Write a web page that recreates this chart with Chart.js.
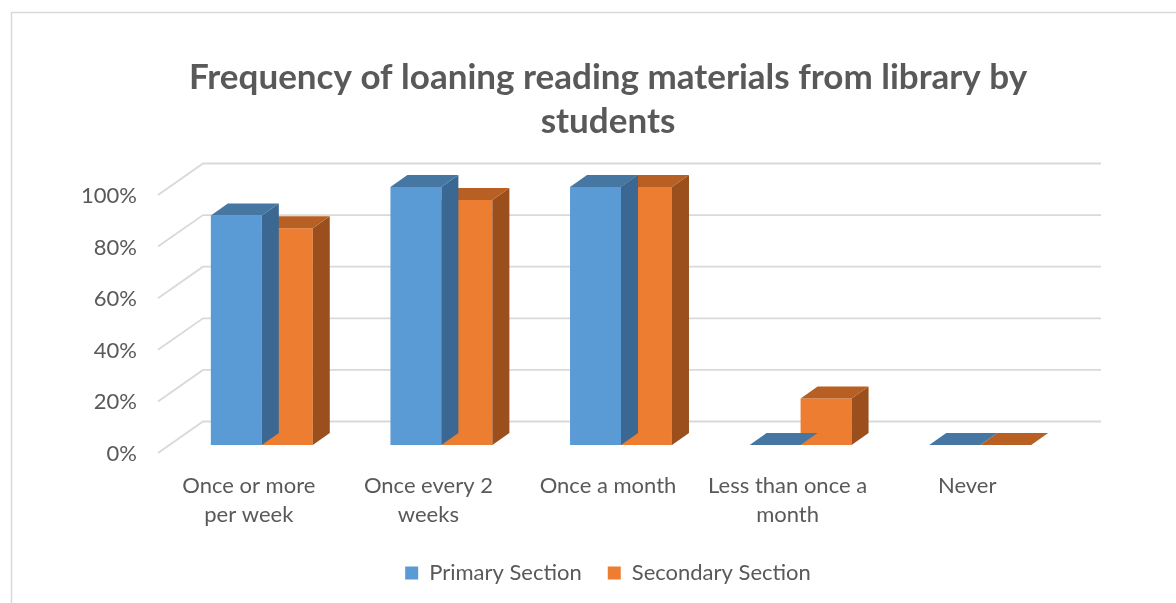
<!DOCTYPE html>
<html>
<head>
<meta charset="utf-8">
<script src="https://cdn.jsdelivr.net/npm/chart.js@4/dist/chart.umd.min.js"></script>
<style>
  html, body { margin: 0; padding: 0; background: #ffffff; }
  #wrap { width: 1176px; height: 603px; position: relative; }
</style>
</head>
<body>
<div id="wrap"><canvas id="chart" width="1176" height="603"></canvas></div>
<script>
// Survey results: share of students per loan frequency
const categories = [
  ['Once or more', 'per week'],
  ['Once every 2', 'weeks'],
  'Once a month',
  ['Less than once a', 'month'],
  'Never'
];
const seriesNames = ['Primary Section', 'Secondary Section'];
const primaryValues = [89, 100, 100, 0, 0];
const secondaryValues = [84, 95, 100, 18, 0];
const yTickValues = [0, 20, 40, 60, 80, 100];

const FONT = 'Lato, "Open Sans", sans-serif';
const TEXT = '#595959';
const GRID = '#d9d9d9';

// Extrusion of each bar (pseudo-3D depth)
const DEPTH_DX = 17;
const DEPTH_DY = -12;
const faceColors = [
  { top: '#4676a2', side: '#3a6892' },
  { top: '#b85f23', side: '#9a4f1d' }
];

// White card with a light border
const cardFrame = {
  id: 'cardFrame',
  beforeDraw(chart) {
    const ctx = chart.ctx;
    ctx.save();
    ctx.fillStyle = '#ffffff';
    ctx.fillRect(0, 0, chart.width, chart.height);
    ctx.strokeStyle = GRID;
    ctx.lineWidth = 1.5;
    ctx.strokeRect(11.5, 12.5, chart.width + 40, chart.height + 40);
    ctx.restore();
  }
};

// Back wall gridlines with a receding floor edge on the left
const wallGrid = {
  id: 'wallGrid',
  beforeDatasetsDraw(chart) {
    const { ctx, chartArea, scales } = chart;
    const y = scales.y;
    ctx.save();
    ctx.strokeStyle = GRID;
    ctx.lineWidth = 1.8;
    y.ticks.forEach(t => {
      const py = y.getPixelForValue(t.value);
      ctx.beginPath();
      ctx.moveTo(chartArea.left - 14, py + 8);
      ctx.lineTo(chartArea.left + 31, py - 23.5);
      ctx.lineTo(chartArea.right + 31, py - 23.5);
      ctx.stroke();
    });
    ctx.restore();
  }
};

// Top and side faces for every bar of a dataset
const barFaces = {
  id: 'barFaces',
  afterDatasetDraw(chart, args) {
    const ctx = chart.ctx;
    const colors = faceColors[args.index];
    args.meta.data.forEach(bar => {
      const { x, y, base, width } = bar.getProps(['x', 'y', 'base', 'width'], true);
      const l = x - width / 2;
      const r = x + width / 2;
      ctx.save();
      if (base - y > 0.5) {
        ctx.fillStyle = colors.side;
        ctx.beginPath();
        ctx.moveTo(r, y);
        ctx.lineTo(r + DEPTH_DX, y + DEPTH_DY);
        ctx.lineTo(r + DEPTH_DX, base + DEPTH_DY);
        ctx.lineTo(r, base);
        ctx.closePath();
        ctx.fill();
      }
      ctx.fillStyle = colors.top;
      ctx.beginPath();
      ctx.moveTo(l, y);
      ctx.lineTo(r, y);
      ctx.lineTo(r + DEPTH_DX, y + DEPTH_DY);
      ctx.lineTo(l + DEPTH_DX, y + DEPTH_DY);
      ctx.closePath();
      ctx.fill();
      ctx.restore();
    });
  }
};

new Chart(document.getElementById('chart'), {
  type: 'bar',
  data: {
    labels: categories,
    datasets: [
      { label: seriesNames[0], data: primaryValues, backgroundColor: '#5b9bd5', yAxisID: 'y' },
      { label: seriesNames[1], data: secondaryValues, backgroundColor: '#ed7d31', yAxisID: 'y' }
    ]
  },
  options: {
    responsive: false,
    animation: false,
    devicePixelRatio: 1,
    layout: { padding: { left: 70, right: 30, top: 0, bottom: 9 } },
    datasets: {
      bar: { barPercentage: 1, categoryPercentage: 0.5676, borderWidth: 0 }
    },
    scales: {
      x: {
        grid: { display: false, drawTicks: false },
        border: { display: false },
        ticks: {
          color: TEXT,
          font: { family: FONT, size: 22, lineHeight: 29 / 22 },
          padding: 26,
          labelOffset: -13,
          maxRotation: 0,
          autoSkip: false
        },
        afterFit(scale) { scale.height = 91; }
      },
      y: {
        position: 'left',
        min: 0,
        max: 100,
        afterBuildTicks(scale) { scale.ticks = yTickValues.map(v => ({ value: v })); },
        grid: { display: false, drawTicks: false },
        border: { display: false },
        ticks: {
          color: TEXT,
          font: { family: FONT, size: 22 },
          padding: 35,
          labelOffset: 9,
          autoSkip: false,
          callback: v => v + '%'
        },
        afterFit(scale) { scale.width = 102; }
      },
      // empty margin on the right side of the plot
      yRight: {
        position: 'right',
        display: true,
        min: 0,
        max: 100,
        grid: { display: false, drawTicks: false },
        border: { display: false },
        ticks: { display: false },
        afterFit(scale) { scale.width = 76; }
      }
    },
    plugins: {
      title: {
        display: true,
        text: ['Frequency of loaning reading materials from library by', 'students'],
        color: TEXT,
        font: { family: FONT, size: 35, weight: 'bold', lineHeight: 44 / 35 },
        padding: { top: 56, bottom: 43 }
      },
      legend: {
        position: 'bottom',
        labels: {
          color: TEXT,
          font: { family: FONT, size: 22 },
          boxWidth: 13,
          boxHeight: 13,
          padding: 26
        }
      },
      tooltip: { enabled: false }
    }
  },
  plugins: [cardFrame, wallGrid, barFaces]
});
</script>
</body>
</html>
